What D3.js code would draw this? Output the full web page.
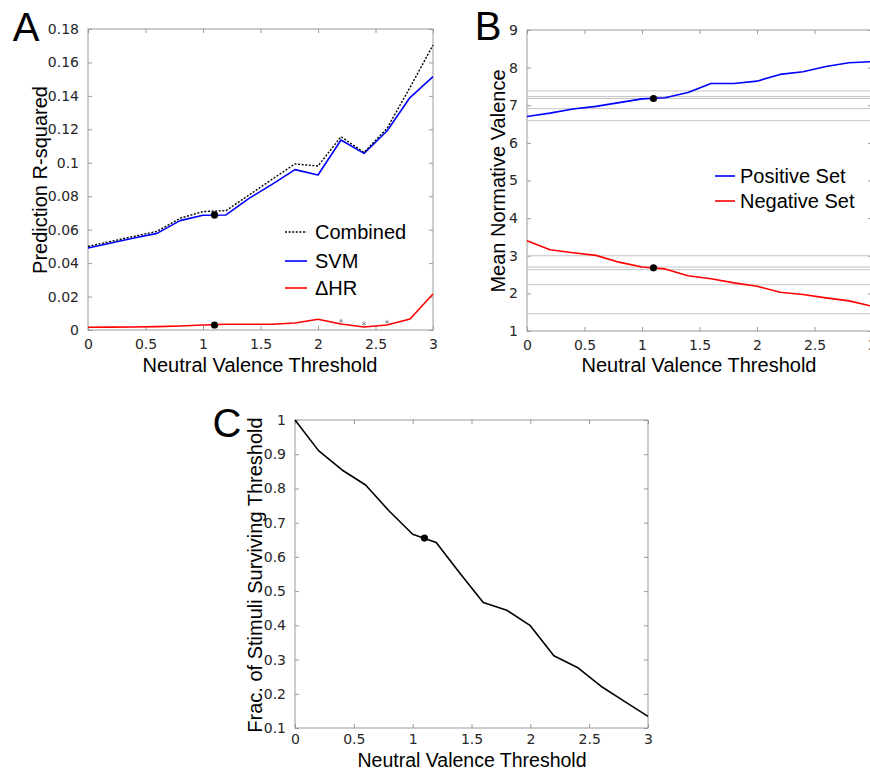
<!DOCTYPE html>
<html><head><meta charset="utf-8">
<script src="https://cdn.jsdelivr.net/npm/d3@7/dist/d3.min.js"></script>
<style>body{margin:0;background:#fff}svg{display:block}</style>
</head><body><svg id="chart" width="870" height="771"></svg>
<script>
// ---------- DATA ----------
const thresholds = [0,0.2,0.4,0.6,0.8,1.0,1.2,1.4,1.6,1.8,2.0,2.2,2.4,2.6,2.8,3.0];
// Panel A
const combinedR2 = [0.050,0.053,0.056,0.059,0.0668,0.0708,0.0714,0.0807,0.0901,0.0993,0.0981,0.1156,0.1062,0.1206,0.1450,0.1704];
const svmR2      = [0.049,0.052,0.055,0.0578,0.0654,0.0686,0.0688,0.0787,0.0871,0.0959,0.0927,0.1136,0.1056,0.1190,0.1390,0.1515];
const dhrR2      = [0.0016,0.0017,0.0018,0.0020,0.0024,0.0030,0.0034,0.0034,0.0034,0.0042,0.0064,0.0036,0.0018,0.0030,0.0066,0.0215];
const starX = [2.2,2.4,2.6];
const starY = [0.0054,0.0038,0.0048];
const selectedThreshold = 1.1;
const selA = [0.0688,0.0030];
const legendA = ["Combined","SVM","\u0394HR"];
const ticksAx = [0,0.5,1,1.5,2,2.5,3];
const ticksAy = [0,0.02,0.04,0.06,0.08,0.1,0.12,0.14,0.16,0.18];
// Panel B
const positiveSet = [6.70,6.79,6.90,6.97,7.07,7.17,7.20,7.34,7.58,7.58,7.64,7.82,7.89,8.03,8.13,8.16];
const negativeSet = [3.40,3.16,3.08,3.01,2.83,2.70,2.65,2.47,2.39,2.28,2.19,2.03,1.97,1.88,1.80,1.66];
const selB = [7.18,2.68];
const posRefs = [7.38,7.23,7.18,6.91,6.59];
const negRefs = [3.00,2.70,2.63,2.23,1.46];
const legendB = ["Positive Set","Negative Set"];
const ticksBy = [1,2,3,4,5,6,7,8,9];
// Panel C
const fracSurviving = [1.0,0.9105,0.854,0.810,0.734,0.666,0.642,0.553,0.467,0.444,0.399,0.311,0.277,0.222,0.178,0.134];
const selC = 0.655;
const ticksCy = [0.1,0.2,0.3,0.4,0.5,0.6,0.7,0.8,0.9,1];

// ---------- DRAW ----------
const svg = d3.select("#chart");
const AX = "#9a9a9a", TXT = "#262626", TF = "DejaVu Sans, sans-serif", LF = "Liberation Sans, Arial, sans-serif";
const fmt = d => String(+d.toFixed(2));

function panel(box, xd, yd, xt, yt, xpad){
  const x = d3.scaleLinear().domain(xd).range([box.l, box.r]);
  const y = d3.scaleLinear().domain(yd).range([box.b, box.t]);
  const g = svg.append("g");
  const mk = (axis, tr) => {
    const a = g.append("g").attr("transform", tr).call(axis);
    a.select(".domain").remove();
    a.selectAll("line").attr("stroke", AX);
    a.selectAll("text").attr("fill", TXT).attr("font-family", TF).attr("font-size", 14);
    return a;
  };
  const L = 4;
  mk(d3.axisBottom(x).tickValues(xt).tickSize(-L).tickPadding(L+xpad).tickFormat(fmt), `translate(0,${box.b})`);
  mk(d3.axisTop(x).tickValues(xt).tickSize(-L).tickFormat(""), `translate(0,${box.t})`);
  mk(d3.axisLeft(y).tickValues(yt).tickSize(-L).tickPadding(L+5).tickFormat(fmt), `translate(${box.l},0)`);
  mk(d3.axisRight(y).tickValues(yt).tickSize(-L).tickFormat(""), `translate(${box.r},0)`);
  g.append("rect").attr("x", box.l).attr("y", box.t).attr("width", box.r-box.l).attr("height", box.b-box.t)
    .attr("fill","none").attr("stroke", AX).attr("stroke-width",1);
  return {x, y, g};
}
function line(p, ys, color, dash){
  const gen = d3.line().x((d,i)=>p.x(thresholds[i])).y(d=>p.y(d));
  p.g.append("path").datum(ys).attr("d", gen).attr("fill","none").attr("stroke", color)
    .attr("stroke-width", dash ? 1.4 : 1.6).attr("stroke-dasharray", dash || null).attr("stroke-linejoin","round");
}
function dot(p, xv, yv){
  p.g.append("circle").attr("cx", p.x(xv)).attr("cy", p.y(yv)).attr("r", 3.6).attr("fill","#000");
}
function label(txt, x, y, opts={}){
  const t = svg.append("text").attr("x", x).attr("y", y).text(txt)
    .attr("font-family", LF).attr("font-size", opts.size || 20).attr("fill", opts.fill || "#000")
    .attr("text-anchor", opts.anchor || "middle");
  if (opts.rot) t.attr("transform", `rotate(-90,${x},${y})`);
  return t;
}

// Panel A
const A = panel({l:88, r:433, t:29, b:330}, [0,3], [0,0.18], ticksAx, ticksAy, 5);
line(A, dhrR2, "#ff0000");
line(A, svmR2, "#0000ff");
line(A, combinedR2, "#000", "2,1.6");
dot(A, selectedThreshold, selA[0]);
dot(A, selectedThreshold, selA[1]);
A.g.selectAll(".star").data(starX).enter().append("path")
  .attr("d", d3.symbol().type(d3.symbolAsterisk).size(14))
  .attr("transform", (d,i)=>`translate(${A.x(d)},${A.y(starY[i])})`)
  .attr("stroke", "#999").attr("stroke-width", 0.9).attr("fill","none");
const legAcol = ["#000","#0000ff","#ff0000"], legAy = [232,261,288];
legendA.forEach((s,i)=>{
  svg.append("line").attr("x1",285).attr("x2",307).attr("y1",legAy[i]).attr("y2",legAy[i])
    .attr("stroke", legAcol[i]).attr("stroke-width", i===0?1.4:1.6).attr("stroke-dasharray", i===0?"2,1.6":null);
  label(s, 315, legAy[i]+7, {anchor:"start"});
});
label("Neutral Valence Threshold", 260, 372);
label("Prediction R-squared", 47, 180, {rot:true});
label("A", 26, 41, {size:40});

// Panel B
const B = panel({l:527, r:872, t:30, b:331}, [0,3], [1,9], ticksAx, ticksBy, 5);
posRefs.concat(negRefs).forEach(v=>{
  B.g.append("line").attr("x1", B.x(0)).attr("x2", B.x(3)).attr("y1", B.y(v)).attr("y2", B.y(v))
    .attr("stroke", "#c4c4c4").attr("stroke-width", 1);
});
line(B, positiveSet, "#0000ff");
line(B, negativeSet, "#ff0000");
dot(B, selectedThreshold, selB[0]);
dot(B, selectedThreshold, selB[1]);
const legBcol = ["#0000ff","#ff0000"], legBy = [176,201];
legendB.forEach((s,i)=>{
  svg.append("line").attr("x1",715).attr("x2",735).attr("y1",legBy[i]).attr("y2",legBy[i])
    .attr("stroke", legBcol[i]).attr("stroke-width", 1.6);
  label(s, 740, legBy[i]+7, {anchor:"start"});
});
label("Neutral Valence Threshold", 699, 372);
label("Mean Normative Valence", 505, 181, {rot:true});
label("B", 488, 40, {size:40});

// Panel C
const C = panel({l:295, r:648, t:420, b:728}, [0,3], [0.1,1], ticksAx, ticksCy, 2);
line(C, fracSurviving, "#000");
dot(C, selectedThreshold, selC);
label("Neutral Valence Threshold", 472, 767, {size:19.5});
label("Frac. of Stimuli Surviving Threshold", 262, 575, {rot:true});
label("C", 227, 437, {size:40});
</script></body></html>
